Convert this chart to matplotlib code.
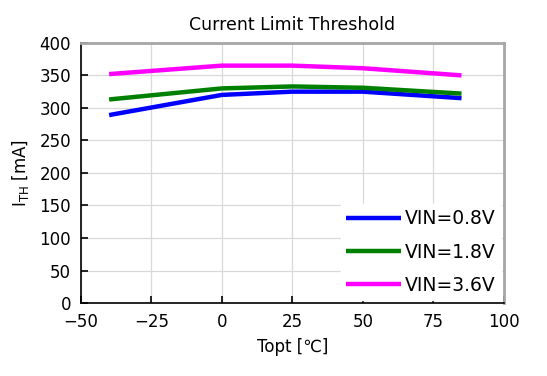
import matplotlib.pyplot as plt

plt.rcParams['font.family'] = ['DejaVu Sans', 'Noto Sans CJK JP']
plt.rcParams['mathtext.fontset'] = 'custom'
plt.rcParams['mathtext.rm'] = 'DejaVu Sans'

# data
temps = [-40, 0, 25, 50, 85]
vin_08 = [289, 320, 325, 325, 315]
vin_18 = [313, 330, 333, 331, 322]
vin_36 = [352, 365, 365, 361, 350]
labels = ['VIN=0.8V', 'VIN=1.8V', 'VIN=3.6V']
colors = ['#0000ff', '#008000', '#ff00ff']

fig = plt.figure(figsize=(5.47, 3.76), dpi=100)
ax = fig.add_axes([0.148, 0.194, 0.773, 0.692])

for ys, lab, c in zip([vin_08, vin_18, vin_36], labels, colors):
    ax.plot(temps, ys, color=c, lw=3.2, label=lab, solid_capstyle='butt')

ax.set_xlim(-50, 100)
ax.set_ylim(0, 400)
ax.set_xticks(range(-50, 101, 25))
ax.set_yticks(range(0, 401, 50))
ax.set_xticklabels(['\u221250', '\u221225', '0', '25', '50', '75', '100'])
ax.grid(True, color='#d9d9d9', lw=0.9)
ax.set_axisbelow(True)
ax.tick_params(direction='in', length=5, width=1.2, labelsize=12, pad=7)

ax.spines['left'].set_color('black')
ax.spines['bottom'].set_color('black')
ax.spines['left'].set_linewidth(1.2)
ax.spines['bottom'].set_linewidth(1.2)
for s in ['top', 'right']:
    ax.spines[s].set_color('#a6a6a6')
    ax.spines[s].set_linewidth(2)

ax.set_title('Current Limit Threshold', fontsize=12.5, pad=9)
ax.set_xlabel('Topt [\u2103]', fontsize=12, labelpad=5)
ax.set_ylabel(r'I$\mathregular{_{TH}}$ [mA]', fontsize=12, labelpad=6)

leg = ax.legend(loc='lower right', fontsize=13.5, frameon=True, fancybox=False,
                edgecolor='white', framealpha=1, handlelength=2.9,
                handletextpad=0.2, labelspacing=0.75, borderaxespad=0.15,
                borderpad=0.3)

fig.savefig('out.png', dpi=100)
